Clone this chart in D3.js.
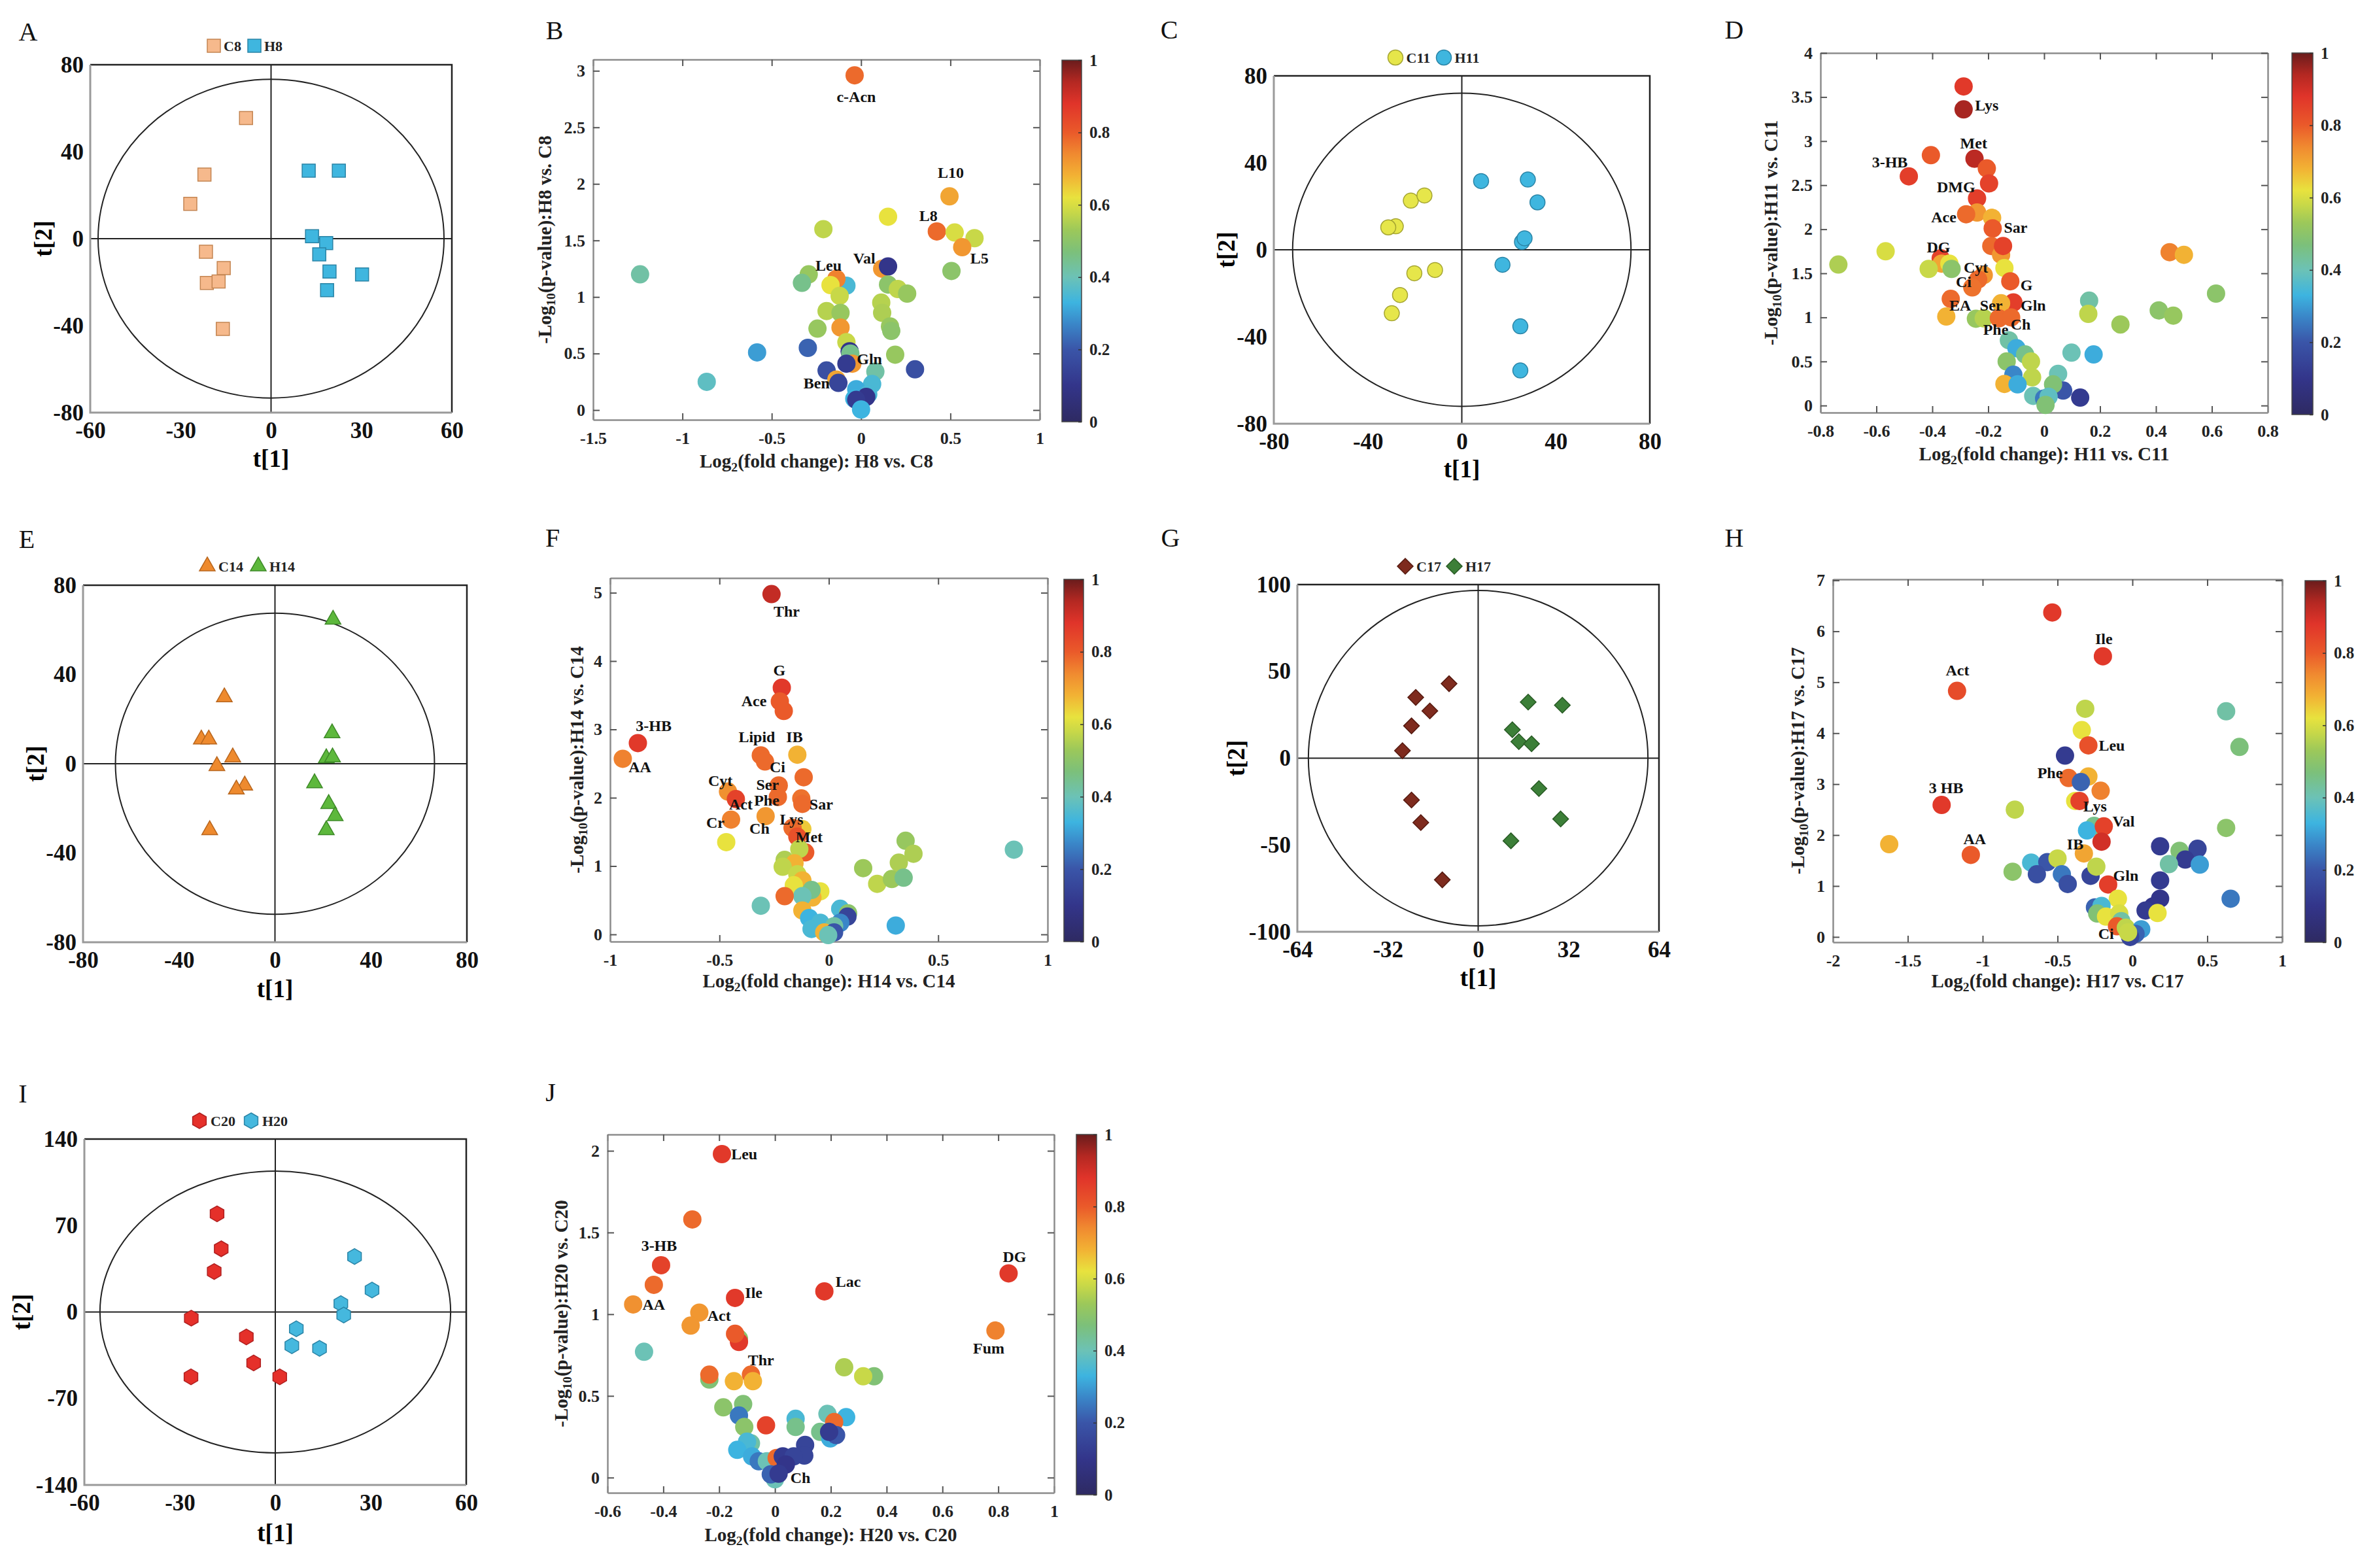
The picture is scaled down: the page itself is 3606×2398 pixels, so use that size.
<!DOCTYPE html>
<html>
<head>
<meta charset="UTF-8">
<title>PCA score plots and volcano plots</title>
<script src="https://d3js.org/d3.v7.min.js"></script>
<style>
  body { margin: 0; background: #fff; }
  text { font-family: "Liberation Serif", "Times New Roman", serif; }
</style>
</head>
<body>
<svg id="fig" width="3606" height="2398"></svg>
<script>
// ---------- data: PCA score plots ----------
var ticksA_x = [-60, -30, 0, 30, 60], ticksA_y = [-80, -40, 0, 40, 80];
var ellipseA = [57.4, 73.3];
var groupA_C8 = [[-8.3,55.5],[-22.1,29.5],[-26.8,16],[-21.6,-6],[-15.7,-13.5],[-21.3,-20.4],[-17.4,-19.7],[-16,-41.5]];
var groupA_H8 = [[12.5,31.3],[22.5,31.3],[13.6,1.1],[18.3,-2],[16,-7.2],[19.4,-15.1],[30.2,-16.5],[18.6,-23.7]];

var ticksC_x = [-80, -40, 0, 40, 80], ticksC_y = [-80, -40, 0, 40, 80];
var ellipseC = [72, 72];
var groupC_C11 = [[-28.1,10.8],[-31.3,10.3],[-21.7,22.6],[-15.9,25],[-11.4,-9.3],[-20.2,-10.8],[-26.3,-20.8],[-29.8,-29.2]];
var groupC_H11 = [[8.2,31.6],[28.1,32.3],[32.2,21.8],[25.6,3.6],[26.7,5.3],[17.3,-6.9],[24.9,-35.2],[24.9,-55.5]];

var ticksE_x = [-80, -40, 0, 40, 80], ticksE_y = [-80, -40, 0, 40, 80];
var ellipseE = [66.5, 67.5];
var groupE_C14 = [[-21.1,29.8],[-30.7,10.9],[-27.6,10.9],[-17.6,2.9],[-24.2,-1],[-12.6,-9.7],[-16.1,-11.5],[-27.2,-29.7]];
var groupE_H14 = [[24.2,64.6],[23.8,13.7],[21.4,2.5],[24,2.9],[16.5,-8.7],[22.4,-18],[25.1,-23.4],[21.4,-29.7]];

var ticksG_x = [-64, -32, 0, 32, 64], ticksG_y = [-100, -50, 0, 50, 100];
var ellipseG = [60.1, 96.6];
var groupG_C17 = [[-10.3,42.9],[-22.1,35],[-17.1,27.2],[-23.6,18.6],[-26.8,4.3],[-23.6,-24.1],[-20.3,-37.1],[-12.7,-70.1]];
var groupG_H17 = [[17.7,32.3],[29.8,30.5],[12.1,16.4],[14.4,9.5],[18.9,8.3],[21.5,-17.5],[29.2,-35],[11.6,-47.6]];

var ticksI_x = [-60, -30, 0, 30, 60], ticksI_y = [-140, -70, 0, 70, 140];
var ellipseI = [55.1, 114];
var groupI_C20 = [[-18.3,79.5],[-17,51.2],[-19.2,32.8],[-26.4,-5],[-9.1,-20.2],[-6.8,-41.2],[-26.5,-52.5],[1.4,-52.5]];
var groupI_H20 = [[24.9,44.9],[30.4,17.8],[20.6,6.8],[21.5,-2.4],[6.6,-13.6],[5.2,-27.3],[13.9,-29.4]];

// ---------- data: volcano plots [log2FC, -log10 p, colour value] ----------
var ticksB_x = [-1.5, -1, -0.5, 0, 0.5, 1], ticksB_y = [0, 0.5, 1, 1.5, 2, 2.5, 3];
var volcB = [
  [-0.036,2.96,0.78],[0.495,1.89,0.70],[0.151,1.71,0.62],[-0.211,1.60,0.57],[0.424,1.58,0.78],[0.524,1.57,0.60],
  [0.635,1.52,0.58],[0.566,1.44,0.72],[0.506,1.23,0.50],[0.118,1.25,0.72],[0.151,1.27,0.10],[-1.237,1.20,0.42],
  [-0.293,1.20,0.52],[-0.331,1.125,0.45],[-0.082,1.10,0.35],[-0.138,1.16,0.75],[-0.171,1.105,0.62],[0.151,1.11,0.50],
  [0.206,1.07,0.57],[0.258,1.03,0.52],[-0.12,1.01,0.58],[0.113,0.95,0.56],[0.118,0.86,0.55],[-0.193,0.876,0.56],
  [-0.115,0.86,0.52],[-0.115,0.73,0.72],[-0.244,0.72,0.52],[0.162,0.74,0.52],[0.169,0.70,0.50],[-0.082,0.60,0.58],
  [-0.298,0.55,0.22],[-0.582,0.51,0.30],[-0.064,0.52,0.10],[-0.06,0.50,0.45],[0.191,0.49,0.52],[-0.049,0.41,0.72],
  [-0.082,0.41,0.12],[-0.193,0.35,0.18],[0.302,0.36,0.18],[0.08,0.34,0.42],[-0.864,0.25,0.38],[-0.138,0.27,0.70],
  [-0.127,0.24,0.15],[0.062,0.23,0.35],[-0.027,0.185,0.32],[0.04,0.14,0.35],[0.029,0.116,0.10],[-0.038,0.10,0.33],
  [-0.027,0.09,0.12],[0,0.005,0.33]
];
var labelsB = [["c-Acn",-0.027,2.77],["L10",0.502,2.10],["L8",0.377,1.72],["L5",0.662,1.34],["Val",0.018,1.34],
  ["Leu",-0.182,1.28],["Gln",0.047,0.45],["Ben",-0.249,0.24]];

var ticksD_x = [-0.8, -0.6, -0.4, -0.2, 0, 0.2, 0.4, 0.6, 0.8], ticksD_y = [0, 0.5, 1, 1.5, 2, 2.5, 3, 3.5, 4];
var volcD = [
  [-0.288,3.62,0.87],[-0.288,3.36,0.95],[-0.405,2.84,0.80],[-0.249,2.80,0.93],[-0.205,2.69,0.80],[-0.484,2.60,0.86],
  [-0.197,2.52,0.85],[-0.24,2.35,0.86],[-0.24,2.19,0.72],[-0.279,2.17,0.78],[-0.186,2.13,0.68],[-0.184,2.01,0.80],
  [-0.189,1.81,0.78],[-0.154,1.71,0.72],[-0.147,1.81,0.85],[-0.567,1.75,0.60],[-0.736,1.60,0.55],[-0.37,1.67,0.85],
  [-0.367,1.61,0.70],[-0.339,1.61,0.62],[-0.413,1.55,0.58],[-0.331,1.55,0.50],[-0.142,1.56,0.62],[-0.216,1.48,0.72],
  [-0.236,1.43,0.78],[-0.257,1.34,0.77],[-0.121,1.41,0.80],[-0.334,1.21,0.78],[-0.11,1.17,0.86],[-0.154,1.16,0.68],
  [0.449,1.74,0.75],[0.50,1.71,0.68],[0.615,1.27,0.50],[0.161,1.19,0.42],[0.158,1.04,0.57],[0.41,1.08,0.50],
  [0.462,1.02,0.52],[0.273,0.92,0.53],[-0.35,1.01,0.68],[-0.244,0.985,0.52],[-0.216,0.99,0.56],[-0.162,0.99,0.78],
  [-0.118,1.00,0.78],[-0.126,0.74,0.42],[-0.099,0.65,0.32],[-0.068,0.58,0.45],[-0.047,0.50,0.57],[-0.134,0.50,0.50],
  [0.098,0.60,0.40],[0.177,0.58,0.32],[-0.11,0.35,0.27],[-0.043,0.32,0.57],[0.05,0.36,0.40],[0.068,0.17,0.20],
  [-0.142,0.245,0.68],[-0.095,0.24,0.32],[0.032,0.24,0.48],[-0.039,0.11,0.40],[0.129,0.09,0.12],[0,0.08,0.25],
  [0.016,0.10,0.38],[0.005,0.007,0.48]
];
var labelsD = [["Lys",-0.205,3.41],["Met",-0.252,2.98],["3-HB",-0.552,2.76],["DMG",-0.315,2.48],["Ace",-0.359,2.14],
  ["Sar",-0.102,2.02],["DG",-0.378,1.80],["Cyt",-0.244,1.57],["Ci",-0.288,1.40],["G",-0.063,1.37],["EA",-0.3,1.14],
  ["Ser",-0.189,1.14],["Gln",-0.039,1.14],["Phe",-0.173,0.86],["Ch",-0.084,0.92]];

var ticksF_x = [-1, -0.5, 0, 0.5, 1], ticksF_y = [0, 1, 2, 3, 4, 5];
var volcF = [
  [-0.262,4.98,0.92],[-0.215,3.61,0.87],[-0.224,3.41,0.80],[-0.206,3.27,0.80],[-0.873,2.80,0.87],[-0.942,2.57,0.75],
  [-0.311,2.62,0.78],[-0.292,2.53,0.78],[-0.144,2.63,0.68],[-0.115,2.30,0.78],[-0.229,2.18,0.78],[-0.233,2.01,0.78],
  [-0.126,1.99,0.77],[-0.121,1.91,0.78],[-0.461,2.09,0.73],[-0.425,1.98,0.85],[-0.447,1.68,0.75],[-0.289,1.73,0.72],
  [-0.121,1.54,0.65],[-0.166,1.56,0.78],[-0.144,1.43,0.82],[-0.108,1.20,0.80],[-0.469,1.35,0.62],[-0.135,1.25,0.57],
  [-0.202,1.09,0.55],[-0.157,1.04,0.68],[-0.211,0.99,0.57],[-0.144,0.88,0.58],[-0.121,0.79,0.68],[-0.16,0.72,0.62],
  [-0.039,0.63,0.62],[-0.075,0.54,0.68],[-0.079,0.65,0.45],[-0.121,0.56,0.40],[-0.202,0.56,0.78],[-0.311,0.42,0.40],
  [-0.121,0.35,0.68],[0.052,0.375,0.35],[0.088,0.31,0.50],[0.085,0.26,0.15],[-0.09,0.24,0.33],[-0.039,0.17,0.35],
  [-0.079,0.08,0.35],[0.052,0.17,0.27],[0.024,0.12,0.42],[-0.021,0.03,0.68],[0.024,0.03,0.20],[-0.003,-0.01,0.40],
  [0.157,0.97,0.53],[0.221,0.74,0.57],[0.288,0.81,0.53],[0.32,1.05,0.55],[0.351,1.37,0.52],[0.387,1.18,0.55],
  [0.342,0.83,0.45],[0.306,0.13,0.32],[0.846,1.24,0.40]
];
var labelsF = [["Thr",-0.193,4.73],["G",-0.226,3.87],["Ace",-0.342,3.42],["3-HB",-0.801,3.05],["AA",-0.864,2.45],
  ["Lipid",-0.329,2.89],["IB",-0.157,2.89],["Ci",-0.235,2.45],["Cyt",-0.496,2.25],["Ser",-0.28,2.19],["Phe",-0.284,1.96],
  ["Act",-0.402,1.90],["Sar",-0.035,1.90],["Cr",-0.519,1.64],["Ch",-0.317,1.55],["Lys",-0.17,1.68],["Met",-0.09,1.43]];

var ticksH_x = [-2, -1.5, -1, -0.5, 0, 0.5, 1], ticksH_y = [0, 1, 2, 3, 4, 5, 6, 7];
var volcH = [
  [-0.535,6.37,0.87],[-0.197,5.51,0.87],[-1.171,4.83,0.83],[-0.315,4.48,0.57],[0.626,4.43,0.42],[-0.338,4.06,0.62],
  [-0.294,3.76,0.82],[0.715,3.73,0.47],[-0.45,3.56,0.12],[-0.426,3.12,0.78],[-0.294,3.15,0.68],[-0.344,3.04,0.22],
  [-0.212,2.87,0.75],[-1.274,2.59,0.87],[-0.785,2.50,0.57],[-0.382,2.67,0.62],[-0.353,2.67,0.85],[-0.256,2.18,0.45],
  [-0.303,2.09,0.33],[-0.191,2.17,0.85],[-0.206,1.87,0.90],[0.626,2.14,0.50],[-1.624,1.82,0.68],[-1.079,1.61,0.80],
  [-0.324,1.64,0.70],[0.185,1.78,0.12],[0.315,1.69,0.48],[0.435,1.73,0.15],[0.353,1.52,0.12],[0.244,1.43,0.42],
  [0.45,1.42,0.30],[-0.676,1.46,0.35],[-0.568,1.47,0.20],[-0.5,1.54,0.58],[-0.8,1.28,0.50],[-0.638,1.23,0.18],
  [-0.471,1.23,0.25],[-0.432,1.04,0.18],[-0.279,1.20,0.15],[-0.241,1.38,0.57],[-0.162,1.03,0.86],[0.185,1.11,0.12],
  [0.185,0.75,0.10],[0.656,0.75,0.25],[-0.097,0.75,0.62],[-0.25,0.58,0.22],[-0.206,0.61,0.35],[-0.235,0.46,0.48],
  [-0.176,0.40,0.62],[0.138,0.60,0.10],[0.088,0.52,0.12],[0.168,0.47,0.62],[-0.088,0.46,0.60],[-0.074,0.31,0.42],
  [-0.103,0.21,0.80],[-0.044,0.18,0.57],[0.059,0.15,0.30],[0.021,0.06,0.22],[-0.015,0.0,0.15],[-0.029,0.09,0.58]
];
var labelsH = [["Ile",-0.191,5.85],["Act",-1.168,5.24],["Leu",-0.138,3.76],["Phe",-0.55,3.22],["3 HB",-1.244,2.92],
  ["Lys",-0.25,2.56],["Val",-0.059,2.27],["AA",-1.053,1.93],["IB",-0.382,1.82],["Gln",-0.044,1.21],["Ci",-0.176,0.06]];

var ticksJ_x = [-0.6, -0.4, -0.2, 0, 0.2, 0.4, 0.6, 0.8, 1], ticksJ_y = [0, 0.5, 1, 1.5, 2];
var volcJ = [
  [-0.19,1.98,0.87],[-0.296,1.58,0.78],[-0.408,1.30,0.85],[-0.434,1.18,0.78],[-0.508,1.06,0.73],[-0.143,1.10,0.87],
  [-0.271,1.01,0.72],[-0.302,0.93,0.72],[-0.129,0.85,0.50],[-0.129,0.83,0.87],[-0.143,0.88,0.80],[-0.469,0.77,0.40],
  [0.177,1.14,0.87],[0.837,1.25,0.87],[0.79,0.90,0.75],[-0.235,0.60,0.48],[-0.235,0.63,0.78],[-0.086,0.63,0.78],
  [-0.147,0.59,0.68],[-0.079,0.59,0.68],[0.248,0.675,0.55],[0.355,0.62,0.48],[0.316,0.62,0.58],[-0.185,0.43,0.50],
  [-0.114,0.45,0.48],[-0.129,0.38,0.25],[-0.11,0.31,0.50],[-0.032,0.32,0.85],[0.074,0.36,0.35],[0.074,0.31,0.45],
  [0.188,0.39,0.40],[0.255,0.37,0.33],[0.212,0.34,0.78],[0.162,0.28,0.45],[0.198,0.24,0.32],[0.219,0.26,0.20],
  [0.194,0.28,0.12],[0.108,0.20,0.15],[0.105,0.135,0.15],[-0.086,0.21,0.42],[-0.1,0.22,0.35],[-0.135,0.17,0.33],
  [-0.082,0.13,0.32],[-0.058,0.10,0.25],[-0.029,0.10,0.40],[0.006,0.12,0.78],[0.028,0.13,0.12],[0.067,0.13,0.15],
  [0.039,0.08,0.10],[0,-0.01,0.40],[-0.015,0.02,0.22],[0.013,0.024,0.12]
];
var labelsJ = [["Leu",-0.11,1.98],["3-HB",-0.415,1.42],["AA",-0.434,1.06],["Ile",-0.076,1.13],["Act",-0.2,0.99],
  ["Lac",0.262,1.20],["DG",0.858,1.35],["Fum",0.766,0.79],["Thr",-0.05,0.72],["Ch",0.091,0.0]];

var colorbarTicks = [0, 0.2, 0.4, 0.6, 0.8, 1];

// ---------- drawing ----------
var svg = d3.select("#fig");
svg.append("rect").attr("width", 3606).attr("height", 2398).attr("fill", "#fff");
var SERIF = '"Liberation Serif", "Times New Roman", serif';

// jet-like colormap
var cmapStops = [0, 0.1, 0.2, 0.27, 0.33, 0.4, 0.47, 0.53, 0.58, 0.62, 0.68, 0.74, 0.8, 0.88, 0.94, 1];
var cmapColors = ["#2e2a62", "#33358a", "#3a55a8", "#3a86c8", "#3db4e0", "#6cc2b6", "#7cc07a", "#9cc85a",
                  "#c8d848", "#e8e23e", "#f2b234", "#f08a30", "#ea5a2a", "#e0342a", "#b42822", "#6a1c1c"];
var cmap = d3.scaleLinear().domain(cmapStops).range(cmapColors).interpolate(d3.interpolateRgb);

var grad = svg.append("defs").append("linearGradient").attr("id", "jet")
    .attr("x1", 0).attr("y1", 1).attr("x2", 0).attr("y2", 0);
cmapStops.forEach(function(s, i) {
    grad.append("stop").attr("offset", s).attr("stop-color", cmapColors[i]);
});

function fmt(d) { return String(d); }

// marker shapes
function shapePath(type, s) {
    if (type === "square") return "M" + (-s/2) + "," + (-s/2) + "h" + s + "v" + s + "h" + (-s) + "Z";
    if (type === "circle") return d3.symbol(d3.symbolCircle, Math.PI * s * s / 4)();
    if (type === "triangle") {
        var h = s * 0.88;
        return "M0," + (-h * 2/3) + "L" + (s/2) + "," + (h/3) + "L" + (-s/2) + "," + (h/3) + "Z";
    }
    if (type === "diamond") {
        var r = s / 2;
        return "M0," + (-r) + "L" + r + ",0L0," + r + "L" + (-r) + ",0Z";
    }
    if (type === "hexagon") {
        var pts = d3.range(6).map(function(k) {
            var a = (-90 + k * 60) * Math.PI / 180;
            return [s/2 * Math.cos(a), s/2 * Math.sin(a)];
        });
        return "M" + pts.join("L") + "Z";
    }
}

function panelLetter(t, x, y) {
    svg.append("text").attr("x", x).attr("y", y).attr("text-anchor", "middle")
        .attr("dominant-baseline", "central").attr("font-size", 40).attr("fill", "#111").text(t);
}

function drawPCA(o) {
    var g = svg.append("g");
    var b = o.box;
    var x = d3.scaleLinear().domain(d3.extent(o.xt)).range([b[0], b[2]]);
    var y = d3.scaleLinear().domain(d3.extent(o.yt)).range([b[3], b[1]]);

    // tick labels
    var gx = g.append("g").attr("transform", "translate(0," + b[3] + ")")
        .call(d3.axisBottom(x).tickValues(o.xt).tickSize(0).tickPadding(14).tickFormat(fmt));
    var gy = g.append("g").attr("transform", "translate(" + b[0] + ",0)")
        .call(d3.axisLeft(y).tickValues(o.yt).tickSize(0).tickPadding(10).tickFormat(fmt));
    [gx, gy].forEach(function(a) {
        a.select(".domain").remove();
        a.attr("font-family", SERIF).attr("font-size", 35).attr("font-weight", "bold");
        a.selectAll("text").attr("fill", "#111");
    });

    // Hotelling ellipse and centre lines
    g.append("ellipse").attr("cx", x(0)).attr("cy", y(0))
        .attr("rx", x(o.ell[0]) - x(0)).attr("ry", y(0) - y(o.ell[1]))
        .attr("fill", "none").attr("stroke", "#222").attr("stroke-width", 2);
    g.append("line").attr("x1", x(0)).attr("x2", x(0)).attr("y1", b[1]).attr("y2", b[3])
        .attr("stroke", "#222").attr("stroke-width", 2);
    g.append("line").attr("x1", b[0]).attr("x2", b[2]).attr("y1", y(0)).attr("y2", y(0))
        .attr("stroke", "#222").attr("stroke-width", 2);

    // box
    g.append("path").attr("d", "M" + b[0] + "," + b[1] + "H" + b[2] + "V" + b[3])
        .attr("fill", "none").attr("stroke", "#222").attr("stroke-width", 2.5);
    g.append("path").attr("d", "M" + b[0] + "," + b[1] + "V" + b[3] + "H" + b[2])
        .attr("fill", "none").attr("stroke", "#9a9a9a").attr("stroke-width", 3);

    // points
    o.groups.forEach(function(gr) {
        g.append("g").selectAll("path").data(gr.pts).join("path")
            .attr("d", shapePath(gr.shape, gr.size))
            .attr("transform", function(d) { return "translate(" + x(d[0]) + "," + y(d[1]) + ")"; })
            .attr("fill", gr.fill).attr("stroke", gr.stroke).attr("stroke-width", 1.5);
    });

    // legend
    o.groups.forEach(function(gr, i) {
        var lx = o.legend.x[i];
        g.append("path").attr("d", shapePath(gr.shape, gr.size))
            .attr("transform", "translate(" + lx + "," + o.legend.y + ")")
            .attr("fill", gr.fill).attr("stroke", gr.stroke).attr("stroke-width", 1.5);
        g.append("text").attr("x", lx + gr.size / 2 + 5).attr("y", o.legend.y)
            .attr("dominant-baseline", "central").attr("font-size", 22).attr("font-weight", "bold")
            .attr("fill", "#222").text(gr.name);
    });

    // axis titles
    g.append("text").attr("x", (b[0] + b[2]) / 2).attr("y", o.xlabY).attr("text-anchor", "middle")
        .attr("dominant-baseline", "central").attr("font-size", 37).attr("font-weight", "bold").text("t[1]");
    g.append("text").attr("transform", "translate(" + o.ylabX + "," + ((b[1] + b[3]) / 2) + ") rotate(-90)")
        .attr("text-anchor", "middle").attr("dominant-baseline", "central")
        .attr("font-size", 37).attr("font-weight", "bold").text("t[2]");
}

function subText(sel, pre, sub, post, fs) {
    sel.append("tspan").text(pre);
    sel.append("tspan").attr("font-size", fs * 0.68).attr("dy", fs * 0.3).text(sub);
    sel.append("tspan").attr("dy", -fs * 0.3).text(post);
}

function drawVolcano(o) {
    var g = svg.append("g");
    var b = o.box;
    var x = d3.scaleLinear().domain(o.xd).range([b[0], b[2]]);
    var y = d3.scaleLinear().domain(o.yd).range([b[3], b[1]]);

    var axes = [
        g.append("g").attr("transform", "translate(0," + b[3] + ")")
            .call(d3.axisBottom(x).tickValues(o.xt).tickSizeInner(-10).tickSizeOuter(0).tickPadding(19).tickFormat(fmt)),
        g.append("g").attr("transform", "translate(0," + b[1] + ")")
            .call(d3.axisTop(x).tickValues(o.xt).tickSizeInner(-10).tickSizeOuter(0).tickFormat("")),
        g.append("g").attr("transform", "translate(" + b[0] + ",0)")
            .call(d3.axisLeft(y).tickValues(o.yt).tickSizeInner(-10).tickSizeOuter(0).tickPadding(12).tickFormat(fmt)),
        g.append("g").attr("transform", "translate(" + b[2] + ",0)")
            .call(d3.axisRight(y).tickValues(o.yt).tickSizeInner(-10).tickSizeOuter(0).tickFormat(""))
    ];
    axes.forEach(function(a) {
        a.attr("font-family", SERIF).attr("font-size", 26).attr("font-weight", "bold");
        a.select(".domain").attr("stroke", "#8c8c8c").attr("stroke-width", 2.5);
        a.selectAll(".tick line").attr("stroke", "#555").attr("stroke-width", 2);
        a.selectAll(".tick text").attr("fill", "#222");
    });

    // points
    g.append("g").selectAll("circle").data(o.pts).join("circle")
        .attr("cx", function(d) { return x(d[0]); })
        .attr("cy", function(d) { return y(d[1]); })
        .attr("r", 14)
        .attr("fill", function(d) { return cmap(d[2]); });

    // metabolite labels
    g.append("g").selectAll("text").data(o.labels).join("text")
        .attr("x", function(d) { return x(d[1]); })
        .attr("y", function(d) { return y(d[2]); })
        .attr("text-anchor", "middle").attr("dominant-baseline", "central")
        .attr("font-size", 24).attr("font-weight", "bold").attr("fill", "#111")
        .text(function(d) { return d[0]; });

    // colour bar
    var cb = o.cb;
    g.append("rect").attr("x", cb[0]).attr("y", cb[1]).attr("width", cb[2] - cb[0]).attr("height", cb[3] - cb[1])
        .attr("fill", "url(#jet)").attr("stroke", "#444").attr("stroke-width", 1.5);
    var cy = d3.scaleLinear().domain([0, 1]).range([cb[3], cb[1]]);
    var ca = g.append("g").attr("transform", "translate(" + cb[2] + ",0)")
        .call(d3.axisRight(cy).tickValues(colorbarTicks).tickSizeInner(-5).tickSizeOuter(0).tickPadding(12).tickFormat(fmt));
    ca.attr("font-family", SERIF).attr("font-size", 25).attr("font-weight", "bold");
    ca.select(".domain").remove();
    ca.selectAll(".tick line").attr("stroke", "#333").attr("stroke-width", 1.5);
    ca.selectAll(".tick text").attr("fill", "#222");

    // axis titles
    var xl = g.append("text").attr("x", (b[0] + b[2]) / 2).attr("y", o.xlabY).attr("text-anchor", "middle")
        .attr("dominant-baseline", "central").attr("font-size", 29).attr("font-weight", "bold").attr("fill", "#222");
    subText(xl, "Log", "2", "(fold change): " + o.comp, 29);
    var yl = g.append("text").attr("transform", "translate(" + o.ylabX + "," + ((b[1] + b[3]) / 2) + ") rotate(-90)")
        .attr("text-anchor", "middle").attr("dominant-baseline", "central")
        .attr("font-size", 29).attr("font-weight", "bold").attr("fill", "#222");
    subText(yl, "-Log", "10", "(p-value):" + o.comp, 29);
}

// ---------- panels ----------
panelLetter("A", 43, 48);
drawPCA({ box: [138, 99, 691, 631], xt: ticksA_x, yt: ticksA_y, ell: ellipseA, xlabY: 701, ylabX: 66,
    legend: { y: 70, x: [327, 389] },
    groups: [
        { name: "C8", pts: groupA_C8, shape: "square", size: 20, fill: "#f6b98c", stroke: "#c48552" },
        { name: "H8", pts: groupA_H8, shape: "square", size: 20, fill: "#3fb6df", stroke: "#2a84a6" }
    ] });

panelLetter("B", 848, 46);
drawVolcano({ box: [907, 91, 1590, 642], xd: [-1.5, 1], yd: [-0.086, 3.1], xt: ticksB_x, yt: ticksB_y,
    pts: volcB, labels: labelsB, cb: [1624, 92, 1654, 645], xlabY: 705, ylabX: 833, comp: "H8 vs. C8" });

panelLetter("C", 1788, 45);
drawPCA({ box: [1948, 116, 2523, 648], xt: ticksC_x, yt: ticksC_y, ell: ellipseC, xlabY: 717, ylabX: 1875,
    legend: { y: 88, x: [2134, 2208] },
    groups: [
        { name: "C11", pts: groupC_C11, shape: "circle", size: 23, fill: "#e6e64a", stroke: "#a4a432" },
        { name: "H11", pts: groupC_H11, shape: "circle", size: 23, fill: "#3fb6df", stroke: "#2a84a6" }
    ] });

panelLetter("D", 2652, 45);
drawVolcano({ box: [2784, 81, 3468, 631], xd: [-0.8, 0.8], yd: [-0.08, 4], xt: ticksD_x, yt: ticksD_y,
    pts: volcD, labels: labelsD, cb: [3505, 81, 3537, 634], xlabY: 694, ylabX: 2708, comp: "H11 vs. C11" });

panelLetter("E", 41, 824);
drawPCA({ box: [127, 895, 714, 1441], xt: ticksE_x, yt: ticksE_y, ell: ellipseE, xlabY: 1512, ylabX: 54,
    legend: { y: 866, x: [317, 395] },
    groups: [
        { name: "C14", pts: groupE_C14, shape: "triangle", size: 24, fill: "#ee8a2e", stroke: "#b8661e" },
        { name: "H14", pts: groupE_H14, shape: "triangle", size: 24, fill: "#5db83c", stroke: "#3e8a28" }
    ] });

panelLetter("F", 845, 822);
drawVolcano({ box: [933, 884, 1602, 1440], xd: [-1, 1], yd: [-0.105, 5.215], xt: ticksF_x, yt: ticksF_y,
    pts: volcF, labels: labelsF, cb: [1627, 886, 1657, 1440], xlabY: 1500, ylabX: 882, comp: "H14 vs. C14" });

panelLetter("G", 1790, 822);
drawPCA({ box: [1984, 894, 2537, 1425], xt: ticksG_x, yt: ticksG_y, ell: ellipseG, xlabY: 1495, ylabX: 1890,
    legend: { y: 866, x: [2149, 2224] },
    groups: [
        { name: "C17", pts: groupG_C17, shape: "diamond", size: 24, fill: "#7e2b1e", stroke: "#561a10" },
        { name: "H17", pts: groupG_H17, shape: "diamond", size: 24, fill: "#3c7f38", stroke: "#285a24" }
    ] });

panelLetter("H", 2652, 822);
drawVolcano({ box: [2803, 886, 3490, 1441], xd: [-2, 1], yd: [-0.104, 7.02], xt: ticksH_x, yt: ticksH_y,
    pts: volcH, labels: labelsH, cb: [3525, 888, 3557, 1441], xlabY: 1500, ylabX: 2749, comp: "H17 vs. C17" });

panelLetter("I", 35, 1672);
drawPCA({ box: [129, 1742, 713, 2271], xt: ticksI_x, yt: ticksI_y, ell: ellipseI, xlabY: 2344, ylabX: 33,
    legend: { y: 1714, x: [305, 384] },
    groups: [
        { name: "C20", pts: groupI_C20, shape: "hexagon", size: 24, fill: "#e5302a", stroke: "#b02020" },
        { name: "H20", pts: groupI_H20, shape: "hexagon", size: 24, fill: "#45b8de", stroke: "#2a84a6" }
    ] });

panelLetter("J", 842, 1670);
drawVolcano({ box: [929, 1735, 1612, 2283], xd: [-0.6, 1], yd: [-0.093, 2.1], xt: ticksJ_x, yt: ticksJ_y,
    pts: volcJ, labels: labelsJ, cb: [1646, 1735, 1677, 2286], xlabY: 2347, ylabX: 858, comp: "H20 vs. C20" });
</script>
</body>
</html>
